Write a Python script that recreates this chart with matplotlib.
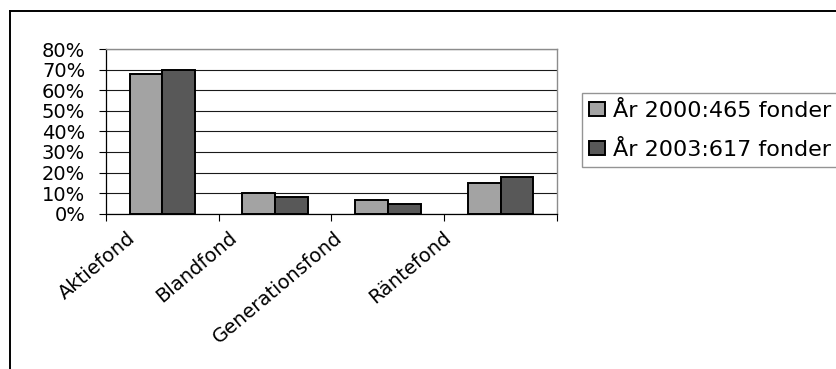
import matplotlib
matplotlib.use("Agg")
import matplotlib.pyplot as plt
from matplotlib.ticker import PercentFormatter, FixedLocator
from matplotlib.lines import Line2D
from matplotlib.transforms import ScaledTranslation
import numpy as np

categories = ["Aktiefond", "Blandfond", "Generationsfond", "Räntefond"]
series_names = ["År 2000:465 fonder", "År 2003:617 fonder"]
share_2000 = [0.68, 0.10, 0.065, 0.15]
share_2003 = [0.70, 0.08, 0.048, 0.18]
y_ticks = [0.0, 0.1, 0.2, 0.3, 0.4, 0.5, 0.6, 0.7, 0.8]

plt.rcParams["font.family"] = ["DejaVu Sans"]
FS = 14

fig = plt.figure(figsize=(8.37, 3.69), dpi=100)
ax = fig.add_axes([0.1266, 0.4209, 0.5389, 0.4463])

x = np.arange(len(categories))
w = 0.29
ax.bar(x - w / 2, share_2000, width=w, color="#a3a3a3", edgecolor="black",
       linewidth=1.4, label=series_names[0], zorder=3)
ax.bar(x + w / 2, share_2003, width=w, color="#585858", edgecolor="black",
       linewidth=1.4, label=series_names[1], zorder=3)

ax.set_xlim(-0.5, len(categories) - 0.5)
ax.set_ylim(0, 0.8)
ax.yaxis.set_major_locator(FixedLocator(y_ticks))
ax.yaxis.set_major_formatter(PercentFormatter(1.0, decimals=0))
ax.grid(axis="y", color="#1a1a1a", linewidth=0.8, zorder=0)

# category boundaries carry the tick marks, centres carry the labels
ax.set_xticks(np.arange(-0.5, len(categories), 1.0), minor=True)
ax.set_xticks(x)
ax.set_xticklabels(categories, rotation=40, ha="right", rotation_mode="anchor",
                   fontsize=FS)
ax.tick_params(axis="x", which="major", length=0, pad=4)
ax.tick_params(axis="x", which="minor", length=5, width=0.8, color="black")
ax.tick_params(axis="y", length=5, width=0.8, pad=10, labelsize=FS)

# rotated labels sit a little left of their category centres
label_dx_px = [-36, -47, -54, -58]
for lbl, dx in zip(ax.get_xticklabels(), label_dx_px):
    shift = ScaledTranslation(dx / 100, -9 / 100, fig.dpi_scale_trans)
    lbl.set_transform(lbl.get_transform() + shift)

for side in ("top", "right"):
    ax.spines[side].set_color("#8c8c8c")
    ax.spines[side].set_linewidth(1.0)
for side in ("left", "bottom"):
    ax.spines[side].set_color("black")
    ax.spines[side].set_linewidth(0.9)

leg = fig.legend(loc="upper left", bbox_to_anchor=(0.695, 1 - 93 / 369),
                 fontsize=16, frameon=True, fancybox=False,
                 handlelength=0.68, handleheight=0.55, handletextpad=0.36,
                 labelspacing=0.85, borderpad=0.35, borderaxespad=0)
leg.get_frame().set_edgecolor("#7a7a7a")
leg.get_frame().set_linewidth(1.0)

# outer chart border (top and left edges)
fig.add_artist(Line2D([9.5 / 837, 1.0], [1 - 10.5 / 369] * 2, color="black",
                      linewidth=1.4, transform=fig.transFigure))
fig.add_artist(Line2D([9.5 / 837] * 2, [0.0, 1 - 10.5 / 369], color="black",
                      linewidth=1.4, transform=fig.transFigure))

fig.savefig("out.png", dpi=100)
